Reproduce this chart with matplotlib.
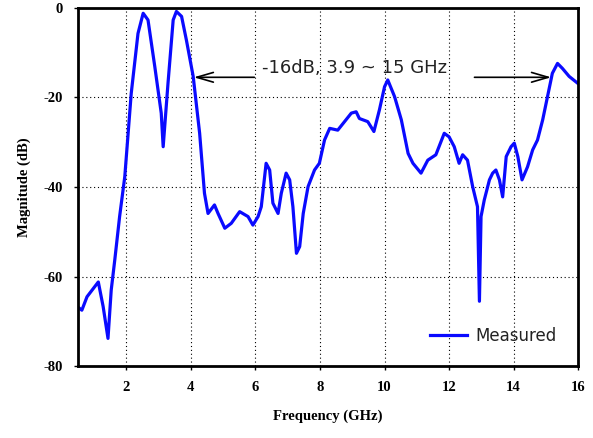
import matplotlib
matplotlib.use("Agg")
import matplotlib.pyplot as plt
from matplotlib.font_manager import FontProperties

plt.rcParams["axes.unicode_minus"] = False

freq_ghz = [0.55, 0.62, 0.78, 1.13, 1.28, 1.43, 1.53, 1.64, 1.79, 1.95, 2.15, 2.36, 2.52,
            2.67, 2.88, 3.08, 3.14, 3.29, 3.45, 3.55, 3.71, 3.86, 4.07, 4.27, 4.42,
            4.53, 4.73, 4.84, 5.05, 5.25, 5.51, 5.77, 5.92, 6.08, 6.18, 6.33, 6.44,
            6.54, 6.70, 6.80, 6.95, 7.06, 7.16, 7.27, 7.37, 7.48, 7.63, 7.83, 7.98,
            8.14, 8.30, 8.55, 8.76, 8.97, 9.12, 9.22, 9.48, 9.67, 9.84, 10.0, 10.10,
            10.31, 10.52, 10.73, 10.88, 11.13, 11.34, 11.59, 11.85, 12.0, 12.16,
            12.31, 12.42, 12.57, 12.73, 12.88, 12.94, 12.99, 13.09, 13.25, 13.35,
            13.45, 13.56, 13.66, 13.77, 13.92, 14.02, 14.13, 14.26, 14.43, 14.59,
            14.74, 14.90, 15.05, 15.20, 15.36, 15.51, 15.72, 15.98]
magnitude_db = [-67.1, -67.5, -64.5, -61.2, -66.7, -73.8, -63.0, -56.3, -46.6, -37.7,
                -19.1, -5.7, -1.2, -2.7, -13.1, -23.5, -31.0, -16.8, -2.7, -0.8, -1.9,
                -7.2, -15.3, -28.0, -41.4, -45.9, -44.0, -45.9, -49.2, -48.1, -45.5,
                -46.6, -48.5, -46.6, -44.4, -34.7, -36.2, -43.6, -45.9, -41.4, -36.9,
                -38.4, -44.4, -54.8, -53.3, -45.9, -39.9, -36.2, -34.7, -29.5, -26.9,
                -27.3, -25.4, -23.5, -23.2, -24.7, -25.4, -27.6, -22.8, -17.6, -16.1,
                -19.8, -25.0, -32.5, -34.7, -36.9, -34.0, -32.8, -28.0, -28.8, -31.0,
                -34.7, -32.8, -34.0, -39.9, -44.4, -65.5, -46.6, -42.9, -38.4, -36.9,
                -36.2, -38.4, -42.2, -33.2, -31.0, -30.2, -33.2, -38.4, -35.5, -31.7,
                -29.5, -25.0, -19.8, -14.6, -12.4, -13.5, -15.3, -16.8]
x_ticks = [2, 4, 6, 8, 10, 12, 14, 16]
y_ticks = [0, -20, -40, -60, -80]
series_label = "Measured"
annotation_text = "-16dB, 3.9 ~ 15 GHz"

fig = plt.figure(figsize=(5.93, 4.38), dpi=100)
ax = fig.add_axes([0.1315, 0.164, 0.8435, 0.818])
ax.plot(freq_ghz, magnitude_db, color="#0a0aff", lw=2.3, label=series_label)
ax.set_xlim(0.5, 16)
ax.set_ylim(-80, 0)
ax.set_xticks(x_ticks)
ax.set_yticks(y_ticks)
ax.grid(True, color="black", linestyle=(0, (1, 2.5)), linewidth=0.8)
for s in ax.spines.values():
    s.set_linewidth(2)
ax.tick_params(direction="out", length=3, width=1, pad=8)
serif = dict(family="Liberation Serif", weight="bold", size=10.5)
for lab in ax.get_xticklabels() + ax.get_yticklabels():
    lab.set_fontproperties(FontProperties(**serif))
ax.set_xlabel("Frequency (GHz)", fontdict=serif, labelpad=11)
ax.set_ylabel("Magnitude (dB)", fontdict=serif, labelpad=9)

ax.annotate("", xy=(4.0, -15.5), xytext=(6.05, -15.5),
            arrowprops=dict(arrowstyle="->,head_length=1.2,head_width=0.35", color="black", lw=1.2))
ax.annotate("", xy=(15.25, -15.5), xytext=(12.7, -15.5),
            arrowprops=dict(arrowstyle="->,head_length=1.2,head_width=0.35", color="black", lw=1.2))
ax.text(6.2, -14.6, annotation_text, fontsize=13, family="DejaVu Sans", va="baseline",
        color="#222222")

leg = ax.legend(loc="lower right", frameon=False, fontsize=12, handlelength=2.2,
                borderaxespad=0.9, handletextpad=0.5)
for t in leg.get_texts():
    t.set_color("#222222")
fig.savefig("out.png", dpi=100)
